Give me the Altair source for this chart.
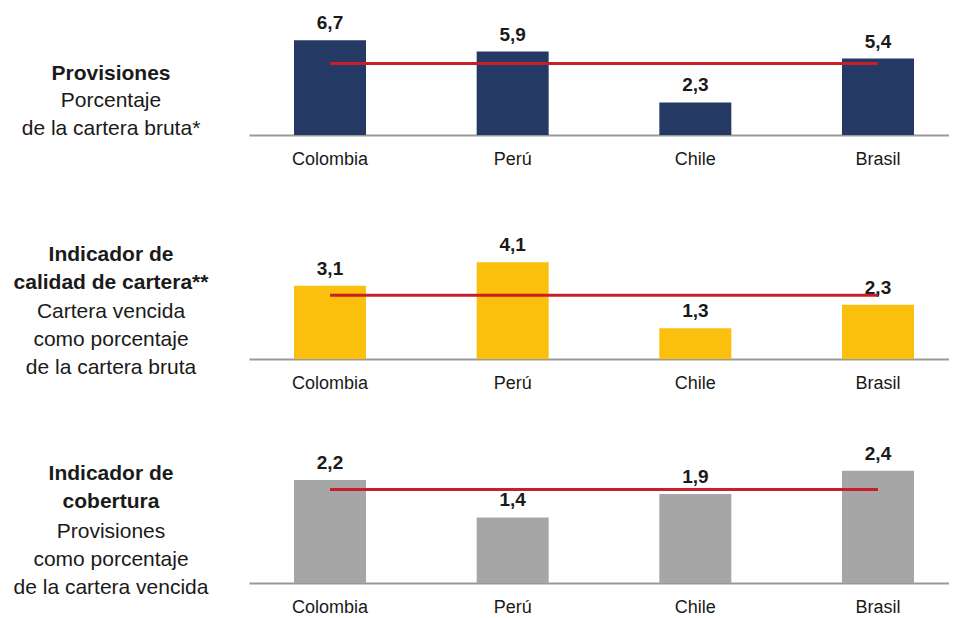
import altair as alt
import pandas as pd

# ---- data -------------------------------------------------------------
paises = ["Colombia", "Perú", "Chile", "Brasil"]
provisiones = [6.7, 5.9, 2.3, 5.4]
calidad = [3.1, 4.1, 1.3, 2.3]
cobertura = [2.2, 1.4, 1.9, 2.4]
promedios = [5.05, 2.7, 2.0]

titulos = [
    ["Provisiones"],
    ["Indicador de", "calidad de cartera**"],
    ["Indicador de", "cobertura"],
]
subtitulos = [
    ["Porcentaje", "de la cartera bruta*"],
    ["Cartera vencida", "como porcentaje", "de la cartera bruta"],
    ["Provisiones", "como porcentaje", "de la cartera vencida"],
]
colores = ["#243a64", "#fbbf0e", "#a6a6a6"]

# ---- style ------------------------------------------------------------
FONT = "Liberation Sans, Arial, sans-serif"
TXT = "#1a1a1a"
RED = "#c81e2a"
W = 700


def x_enc():
    return alt.X(
        "pais:N",
        sort=paises,
        title=None,
        scale=alt.Scale(paddingInner=0.6058, paddingOuter=0.219, align=0.5625),
        axis=alt.Axis(
            labelAngle=0,
            ticks=False,
            tickSize=0,
            labelPadding=29,
            labelBaseline="alphabetic",
            labelFont=FONT,
            labelFontSize=18,
            labelColor=TXT,
            domainColor="#999999",
            domainWidth=2,
            grid=False,
        ),
    )


def panel(vals, prom, color, titulo, subt, height, dom, t_y, s_y, marker=False):
    df = pd.DataFrame({
        "pais": paises,
        "valor": vals,
        "etiqueta": [f"{v:.1f}".replace(".", ",") for v in vals],
    })
    yenc = alt.Y("valor:Q", scale=alt.Scale(domain=[0, dom], nice=False, zero=True), axis=None)
    base = alt.Chart(df)
    bars = base.mark_bar(color=color).encode(x=x_enc(), y=yenc)
    labels = base.mark_text(
        baseline="alphabetic", dy=-11, font=FONT, fontSize=19, fontWeight="bold", color=TXT
    ).encode(x=x_enc(), y=yenc, text="etiqueta:N")
    ldf = pd.DataFrame({"pais": [paises[0], paises[-1]], "valor": [prom, prom]})
    line = alt.Chart(ldf).mark_line(color=RED, strokeWidth=3).encode(x=x_enc(), y=yenc)

    one = alt.Data(values=[{}])
    t = alt.Chart(one).mark_text(
        align="center", baseline="alphabetic", font=FONT, fontSize=21, fontWeight="bold",
        lineHeight=28, color=TXT,
    ).encode(x=alt.value(-138), y=alt.value(t_y), text=alt.value(titulo))
    s = alt.Chart(one).mark_text(
        align="center", baseline="alphabetic", font=FONT, fontSize=21,
        lineHeight=28, color=TXT,
    ).encode(x=alt.value(-138), y=alt.value(s_y), text=alt.value(subt))
    layers = [t, s, bars, labels, line]
    if marker:
        mk = alt.Chart(one).mark_rule(strokeOpacity=0, strokeWidth=1).encode(
            x=alt.value(-241), x2=alt.value(-240), y=alt.value(-7)
        )
        layers = [mk] + layers
    return alt.layer(*layers).properties(width=W, height=height)


p1 = panel(provisiones, promedios[0], colores[0], titulos[0], subtitulos[0],
           120, 120 / 14.15, 65, 92, marker=True)
p2 = panel(calidad, promedios[1], colores[1], titulos[1], subtitulos[1],
           140, 140 / 23.6, 42, 99)
p3 = panel(cobertura, promedios[2], colores[2], titulos[2], subtitulos[2],
           140, 140 / 46.8, 37, 95)

chart = (
    alt.vconcat(p1, p2, p3, spacing=84, bounds="flush")
    .properties(padding={"left": 0, "top": 0, "right": 0, "bottom": 0}, background="white")
    .configure_view(stroke=None)
)

chart.save("out.html", embed_options={"renderer": "svg", "actions": False})
